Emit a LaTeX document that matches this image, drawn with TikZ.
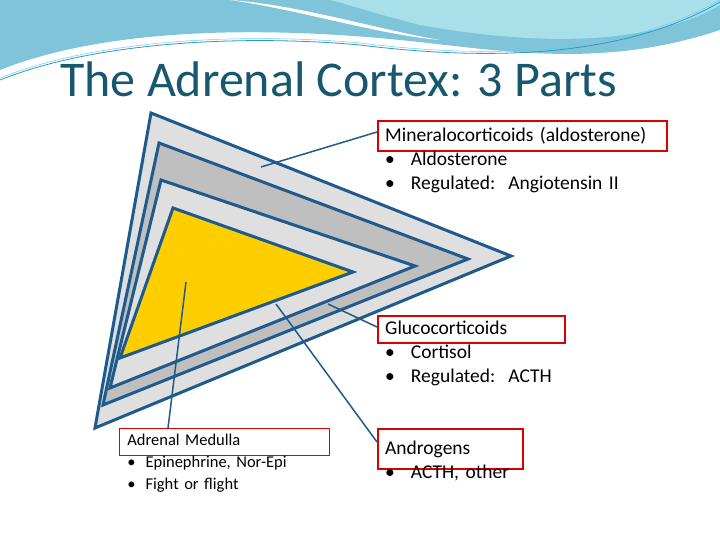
\documentclass[tikz,border=0pt]{standalone}
\usepackage{fontspec}
\setmainfont{Carlito}
\begin{document}
\begin{tikzpicture}[x=1pt,y=-1pt,
  tri/.style={draw=trc, line width=3pt, line join=miter},
  ptr/.style={draw=trc, line width=1.5pt},
  lab/.style={draw=red!85!black, line width=2.4pt, align=left, anchor=north west, inner xsep=7pt, inner ysep=#1, text depth=5pt, text height=15pt},
  labm/.style={draw=red!85!black, line width=0.8pt, align=left, anchor=north west, inner xsep=8pt, inner ysep=5.5pt, font=\fontsize{16.5}{22}\selectfont, text height=12pt, text depth=4pt}]
\definecolor{sw1}{HTML}{7FC4D8}
\definecolor{sw2}{HTML}{A8E0EA}
\definecolor{ttl}{HTML}{17586E}
\definecolor{trc}{HTML}{1F5A8C}
\useasboundingbox (0,0) rectangle (720,540);
\fill[white] (0,0) rectangle (720,540);
% swoosh
\fill[sw1] (0,0) -- (720,0) -- (720,30) .. controls (600,70) and (500,50) .. (400,40) .. controls (250,25) and (100,30) .. (0,70) -- cycle;
\fill[sw2] (330,0) -- (720,0) -- (720,5) .. controls (660,40) and (560,50) .. (420,25) .. controls (380,15) and (350,5) .. (330,0) -- cycle;
\fill[white] (230,0) .. controls (300,5) and (380,30) .. (440,40) .. controls (380,35) and (300,10) .. (230,0);
\draw[cyan!50!teal, line width=0.8pt] (0,80) .. controls (100,40) and (250,35) .. (360,45) .. controls (480,60) and (620,60) .. (720,2);
\draw[cyan!60, line width=0.5pt] (0,78) .. controls (100,38) and (250,33) .. (360,43) .. controls (480,58) and (620,58) .. (720,0);
\node[anchor=west, text=ttl, font=\fontsize{50}{56}\selectfont, inner sep=0] (title) at (60,79) {The Adrenal Cortex: 3 Parts};
% triangles
\filldraw[tri, fill=gray!25] (151,113) -- (511,256) -- (95,428) -- cycle;
\filldraw[tri, fill=gray!50] (159,143) -- (468,259) -- (103,405) -- cycle;
\filldraw[tri, fill=gray!25] (161,180) -- (415,266) -- (110,388) -- cycle;
\filldraw[tri, fill=orange!30!yellow!95!red] (173,208) -- (353,272) -- (120,358) -- cycle;
\coordinate (m) at (261,167);
\coordinate (g) at (328,304);
\coordinate (a) at (276,304);
\coordinate (d) at (186,282);
% labels
\begin{scope}[font=\fontsize{19.5}{24}\selectfont]
\node[lab=5pt, text width=275pt] (mb) at (377,120) {Mineralocorticoids (aldosterone)\\
\textbullet\hspace{16pt}Aldosterone\\
\textbullet\hspace{16pt}Regulated:\ \ Angiotensin II};
\node[lab=3.5pt, text width=173pt] (gb) at (377,315) {Glucocorticoids\\
\textbullet\hspace{16pt}Cortisol\\
\textbullet\hspace{16pt}Regulated:\ \ ACTH};
\node[lab=10pt, text width=131pt] (ab) at (377,428) {Androgens\\
\textbullet\hspace{16pt}ACTH, other};
\end{scope}
\node[labm, text width=194pt] (db) at (119,428) {Adrenal Medulla\\
\textbullet\hspace{10pt}Epinephrine, Nor-Epi\\
\textbullet\hspace{10pt}Fight or flight};
\draw[ptr] (mb.north west) ++(0,12) -- (m);
\draw[ptr] (gb.north west) ++(0,12) -- (g);
\draw[ptr] (ab.north west) ++(0,14) -- (a);
\draw[ptr] (168,428) -- (d);
\end{tikzpicture}
\end{document}
